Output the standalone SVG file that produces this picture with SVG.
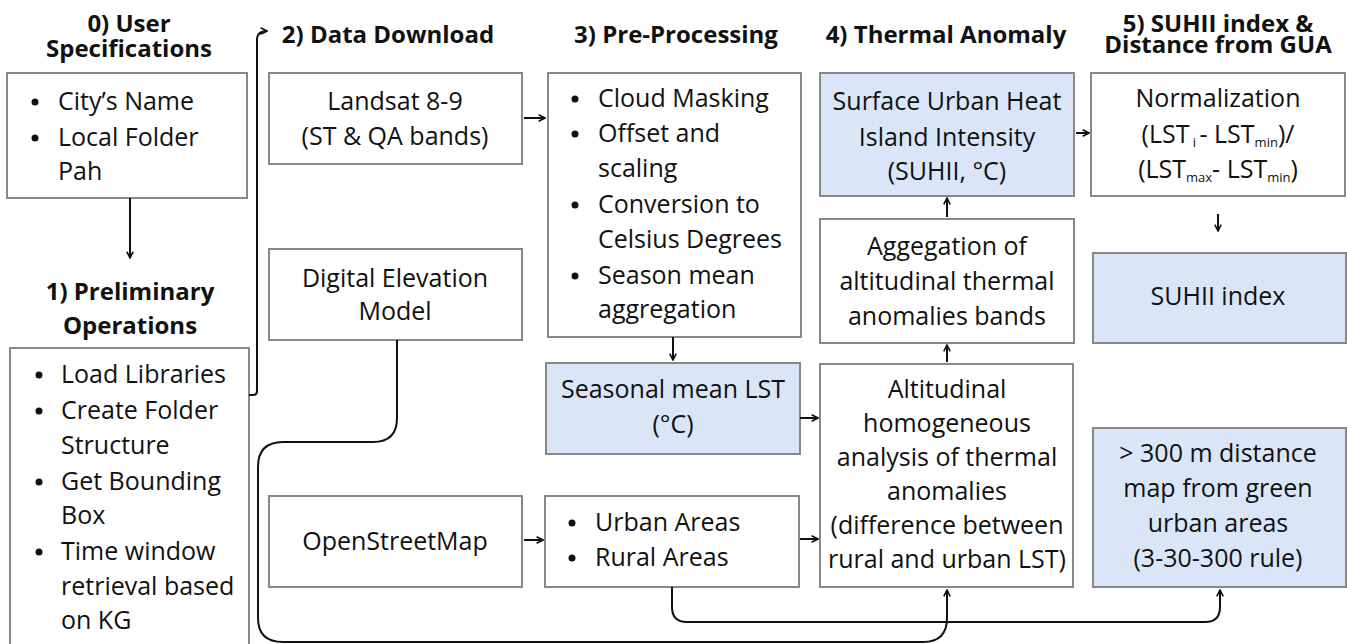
<svg xmlns="http://www.w3.org/2000/svg" width="1347" height="644" viewBox="0 0 1347 644">
<style>
text{font-family:"Open Sans","DejaVu Sans",sans-serif;fill:#111;}
.t{font-size:24px;font-weight:bold;text-anchor:middle;}
.b{font-size:25px;}
.c{font-size:25px;text-anchor:middle;}
.sub{font-size:13px;}
.dot{fill:#111;}
.box{fill:#fff;stroke:#888;stroke-width:2;}
.blue{fill:#dae6f8;stroke:#888;stroke-width:2;}
.con{fill:none;stroke:#111;stroke-width:2;}
</style>
<defs>
<marker id="ah" viewBox="0 0 10 10" refX="9" refY="5" markerWidth="8" markerHeight="8" markerUnits="userSpaceOnUse" orient="auto">
<path d="M1,1 L9,5 L1,9" fill="none" stroke="#111" stroke-width="2"/>
</marker>
</defs>
<g id="titles">
<text class="t" x="129" y="32">0) User</text>
<text class="t" x="129" y="57">Specifications</text>
<text class="t" x="130" y="300">1) Preliminary</text>
<text class="t" x="130" y="334">Operations</text>
<text class="t" x="388" y="43">2) Data Download</text>
<text class="t" x="676" y="43">3) Pre-Processing</text>
<text class="t" x="946" y="43">4) Thermal Anomaly</text>
<text class="t" x="1218" y="32">5) SUHII index &amp;</text>
<text class="t" x="1218" y="53">Distance from GUA</text>
</g>
<g id="user-spec">
<rect class="box" x="7" y="73" width="240" height="125"/>
<circle class="dot" cx="35" cy="102" r="3.5"/><text class="b" x="58" y="110">City’s Name</text>
<circle class="dot" cx="35" cy="138" r="3.5"/><text class="b" x="58" y="146">Local Folder</text>
<text class="b" x="58" y="180">Pah</text>
</g>
<g id="preliminary">
<rect class="box" x="10" y="348" width="239" height="310"/>
<circle class="dot" cx="39" cy="375" r="3.5"/><text class="b" x="61" y="383">Load Libraries</text>
<circle class="dot" cx="39" cy="411" r="3.5"/><text class="b" x="61" y="419">Create Folder</text>
<text class="b" x="61" y="454">Structure</text>
<circle class="dot" cx="39" cy="482" r="3.5"/><text class="b" x="61" y="490">Get Bounding</text>
<text class="b" x="61" y="524">Box</text>
<circle class="dot" cx="39" cy="552" r="3.5"/><text class="b" x="61" y="560">Time window</text>
<text class="b" x="61" y="595">retrieval based</text>
<text class="b" x="61" y="629">on KG</text>
</g>
<g id="landsat">
<rect class="box" x="269" y="73" width="253" height="91"/>
<text class="c" x="395" y="110">Landsat 8-9</text>
<text class="c" x="395" y="145">(ST &amp; QA bands)</text>
</g>
<g id="dem">
<rect class="box" x="269" y="249" width="253" height="91"/>
<text class="c" x="395" y="287">Digital Elevation</text>
<text class="c" x="395" y="320">Model</text>
</g>
<g id="osm">
<rect class="box" x="269" y="496" width="253" height="91"/>
<text class="c" x="395" y="550">OpenStreetMap</text>
</g>
<g id="preprocessing">
<rect class="box" x="548" y="73" width="253" height="264"/>
<circle class="dot" cx="575" cy="99" r="3.5"/><text class="b" x="598" y="107">Cloud Masking</text>
<circle class="dot" cx="575" cy="134" r="3.5"/><text class="b" x="598" y="142">Offset and</text>
<text class="b" x="598" y="177">scaling</text>
<circle class="dot" cx="575" cy="205" r="3.5"/><text class="b" x="598" y="213">Conversion to</text>
<text class="b" x="598" y="248">Celsius Degrees</text>
<circle class="dot" cx="575" cy="276" r="3.5"/><text class="b" x="598" y="284">Season mean</text>
<text class="b" x="598" y="318">aggregation</text>
</g>
<g id="seasonal-lst">
<rect class="blue" x="546" y="363" width="254" height="91"/>
<text class="c" x="673" y="398">Seasonal mean LST</text>
<text class="c" x="673" y="433">(°C)</text>
</g>
<g id="urban-rural">
<rect class="box" x="545" y="496" width="254" height="91"/>
<circle class="dot" cx="572" cy="523" r="3.5"/><text class="b" x="595" y="531">Urban Areas</text>
<circle class="dot" cx="572" cy="558" r="3.5"/><text class="b" x="595" y="566">Rural Areas</text>
</g>
<g id="suhii">
<rect class="blue" x="820" y="73" width="254" height="123"/>
<text class="c" x="947" y="110">Surface Urban Heat</text>
<text class="c" x="947" y="146">Island Intensity</text>
<text class="c" x="947" y="180">(SUHII, °C)</text>
</g>
<g id="aggregation">
<rect class="box" x="820" y="219" width="254" height="124"/>
<text class="c" x="947" y="255">Aggegation of</text>
<text class="c" x="947" y="290">altitudinal thermal</text>
<text class="c" x="947" y="325">anomalies bands</text>
</g>
<g id="altitudinal">
<rect class="box" x="820" y="364" width="253" height="223"/>
<text class="c" x="947" y="398">Altitudinal</text>
<text class="c" x="947" y="432">homogeneous</text>
<text class="c" x="947" y="466">analysis of thermal</text>
<text class="c" x="947" y="500">anomalies</text>
<text class="c" x="947" y="534">(difference between</text>
<text class="c" x="947" y="568">rural and urban LST)</text>
</g>
<g id="normalization">
<rect class="box" x="1091" y="73" width="254" height="123"/>
<text class="c" x="1218" y="107">Normalization</text>
<text class="c" x="1218" y="143">(LST<tspan class="sub" dy="4"> i </tspan><tspan dy="-4">- LST</tspan><tspan class="sub" dy="4">min</tspan><tspan dy="-4">)/</tspan></text>
<text class="c" x="1218" y="178">(LST<tspan class="sub" dy="4">max</tspan><tspan dy="-4">- LST</tspan><tspan class="sub" dy="4">min</tspan><tspan dy="-4">)</tspan></text>
</g>
<g id="suhii-index">
<rect class="blue" x="1093" y="253" width="253" height="90"/>
<text class="c" x="1218" y="305">SUHII index</text>
</g>
<g id="distance-map">
<rect class="blue" x="1093" y="428" width="253" height="159"/>
<text class="c" x="1218" y="462">&gt; 300 m distance</text>
<text class="c" x="1218" y="497">map from green</text>
<text class="c" x="1218" y="532">urban areas</text>
<text class="c" x="1218" y="567">(3-30-300 rule)</text>
</g>
<g id="connectors">
<path class="con" d="M130,198 L130,258" marker-end="url(#ah)"/>
<path class="con" d="M249,395 L253,395 Q257,395 257,391 L257,40 Q257,31 267,31" marker-end="url(#ah)"/>
<path class="con" d="M524,118 L545,118" marker-end="url(#ah)"/>
<path class="con" d="M673,337 L673,360" marker-end="url(#ah)"/>
<path class="con" d="M524,540 L543,540" marker-end="url(#ah)"/>
<path class="con" d="M800,418 L818,418" marker-end="url(#ah)"/>
<path class="con" d="M800,539 L818,539" marker-end="url(#ah)"/>
<path class="con" d="M947,362 L947,345" marker-end="url(#ah)"/>
<path class="con" d="M947,217 L947,198" marker-end="url(#ah)"/>
<path class="con" d="M1076,133 L1089,133" marker-end="url(#ah)"/>
<path class="con" d="M1218,214 L1218,231" marker-end="url(#ah)"/>
<path class="con" d="M397,340 L397,418 Q397,442 373,442 L283,442 Q258,442 258,467 L258,618 Q258,642 283,642 L923,642 Q947,642 947,618 L947,590" marker-end="url(#ah)"/>
<path class="con" d="M672,587 L672,607 Q672,622 687,622 L1205,622 Q1220,622 1220,607 L1220,590" marker-end="url(#ah)"/>
</g>
</svg>
